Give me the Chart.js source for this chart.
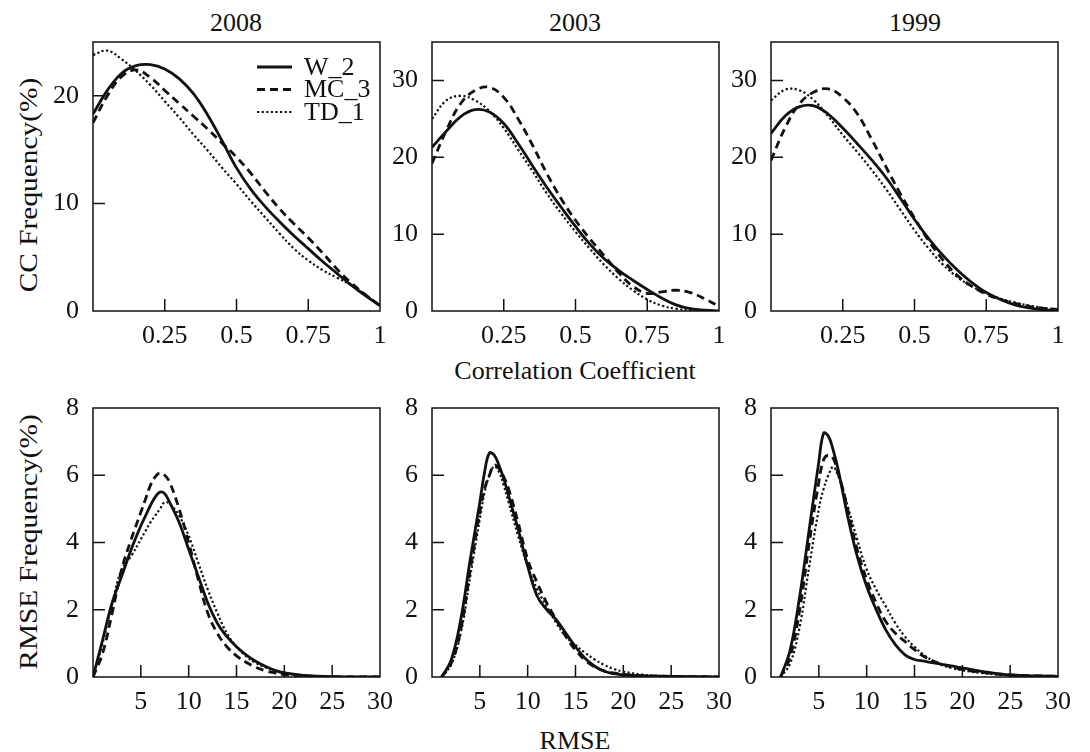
<!DOCTYPE html>
<html>
<head>
<meta charset="utf-8">
<script src="https://cdn.jsdelivr.net/npm/chart.js@4.4.1/dist/chart.umd.min.js"></script>
<style>
body{margin:0;background:#fff;width:1090px;height:752px;position:relative;overflow:hidden;font-family:"Liberation Serif",serif;color:#111}
canvas{position:absolute}
.lbl{position:absolute;font-size:26px;line-height:26px;white-space:nowrap;transform:translate(-50%,-50%)}
.rot{transform:translate(-50%,-50%) rotate(-90deg) scale(1.13,1)}
</style>
</head>
<body>
<div class="lbl" style="left:236px;top:23px">2008</div>
<div class="lbl" style="left:575px;top:23px">2003</div>
<div class="lbl" style="left:915px;top:23px">1999</div>
<div class="lbl rot" style="left:29px;top:185px">CC Frequency(%)</div>
<div class="lbl rot" style="left:29px;top:542px">RMSE Frequency(%)</div>
<div class="lbl" style="left:575px;top:371px">Correlation Coefficient</div>
<div class="lbl" style="left:575px;top:741px">RMSE</div>

<canvas id="c1" width="403" height="351"></canvas>
<canvas id="c2" width="403" height="351"></canvas>
<canvas id="c3" width="403" height="351"></canvas>
<canvas id="c4" width="403" height="351"></canvas>
<canvas id="c5" width="403" height="351"></canvas>
<canvas id="c6" width="403" height="351"></canvas>

<script>
// series names
var names = ['W_2', 'MC_3', 'TD_1'];

// correlation coefficient grid
var ccX = [0, 0.05, 0.1, 0.15, 0.2, 0.25, 0.3, 0.35, 0.4, 0.45, 0.5, 0.55, 0.6, 0.65, 0.7, 0.75, 0.8, 0.85, 0.9, 0.95, 1];

var cc2008W2  = [18.3, 20.5, 22.1, 22.8, 22.9, 22.5, 21.6, 20.2, 18.2, 15.8, 13.3, 11.3, 9.7, 8.3, 7.0, 5.8, 4.6, 3.5, 2.4, 1.4, 0.5];
var cc2008MC3 = [17.5, 20.0, 21.8, 22.4, 21.7, 20.5, 19.3, 18.1, 16.9, 15.6, 14.3, 12.8, 11.1, 9.5, 8.1, 6.8, 5.4, 3.9, 2.6, 1.5, 0.5];
var cc2008TD1 = [23.8, 24.2, 23.4, 22.3, 21.0, 19.5, 18.0, 16.4, 14.9, 13.3, 11.8, 10.2, 8.7, 7.2, 5.8, 4.7, 3.8, 3.1, 2.4, 1.5, 0.5];

var cc2003W2  = [21.3, 23.4, 25.3, 26.2, 25.9, 24.4, 21.8, 18.9, 16.1, 13.5, 11.0, 8.7, 6.8, 5.3, 4.0, 2.8, 1.7, 0.8, 0.3, 0.1, 0];
var cc2003MC3 = [19.2, 23.5, 27.0, 28.7, 29.1, 27.8, 25.0, 21.6, 17.9, 14.6, 11.8, 9.4, 7.2, 5.0, 3.2, 2.3, 2.5, 2.7, 2.4, 1.6, 0.6];
var cc2003TD1 = [25.0, 27.4, 28.0, 27.4, 26.0, 23.8, 21.0, 18.2, 15.3, 12.7, 10.3, 8.1, 6.0, 4.2, 2.7, 1.5, 0.7, 0.3, 0.1, 0, 0];

var cc1999W2  = [23.1, 25.4, 26.6, 26.7, 25.6, 23.8, 21.8, 19.7, 17.4, 14.7, 11.9, 9.4, 7.2, 5.3, 3.7, 2.4, 1.5, 0.8, 0.4, 0.15, 0.05];
var cc1999MC3 = [19.6, 23.9, 27.0, 28.5, 28.9, 27.8, 25.7, 22.4, 18.8, 15.3, 12.1, 9.1, 6.6, 4.6, 3.2, 2.2, 1.5, 1.0, 0.6, 0.35, 0.2];
var cc1999TD1 = [27.4, 28.8, 28.7, 27.4, 25.3, 22.9, 20.7, 18.4, 15.9, 13.2, 10.5, 8.1, 6.0, 4.4, 3.2, 2.3, 1.6, 1.1, 0.7, 0.4, 0.2];

// RMSE grid
var rmseX = [0, 1, 2, 3, 4, 5, 5.5, 6, 6.5, 7, 7.5, 8, 9, 10, 11, 12, 13, 14, 15, 16, 17, 18, 19, 20, 22, 25, 30];

var rm2008W2  = [0, 1.1, 2.2, 3.0, 3.8, 4.5, 4.8, 5.1, 5.35, 5.5, 5.45, 5.2, 4.6, 3.8, 3.0, 2.2, 1.6, 1.2, 0.9, 0.66, 0.47, 0.32, 0.2, 0.12, 0.05, 0.01, 0];
var rm2008MC3 = [0, 0.7, 1.9, 3.2, 4.1, 4.9, 5.3, 5.7, 5.95, 6.07, 6.0, 5.8, 5.0, 4.0, 2.9, 1.9, 1.3, 0.9, 0.63, 0.44, 0.29, 0.19, 0.12, 0.07, 0.02, 0, 0];
var rm2008TD1 = [0, 1.0, 2.2, 3.2, 3.6, 4.1, 4.35, 4.6, 4.8, 5.0, 5.2, 5.15, 4.8, 4.2, 3.4, 2.6, 1.9, 1.3, 0.9, 0.62, 0.42, 0.29, 0.19, 0.12, 0.05, 0.01, 0];

var rm2003W2  = [null, 0, 0.5, 1.7, 3.5, 5.2, 6.1, 6.66, 6.6, 6.3, 5.9, 5.4, 4.4, 3.3, 2.4, 2.0, 1.7, 1.3, 0.9, 0.56, 0.32, 0.17, 0.1, 0.06, 0.03, 0.02, 0];
var rm2003MC3 = [null, 0, 0.4, 1.4, 3.2, 4.9, 5.6, 6.0, 6.3, 6.2, 5.95, 5.6, 4.6, 3.5, 2.8, 2.2, 1.7, 1.2, 0.8, 0.5, 0.3, 0.18, 0.12, 0.08, 0.04, 0.02, 0];
var rm2003TD1 = [null, 0, 0.37, 1.3, 3.0, 4.7, 5.5, 6.0, 6.26, 6.1, 5.7, 5.2, 4.2, 3.3, 2.6, 2.1, 1.6, 1.2, 0.95, 0.72, 0.52, 0.36, 0.24, 0.16, 0.07, 0.02, 0];

var rm1999W2  = [null, 0, 0.8, 2.4, 4.4, 6.4, 7.25, 7.16, 6.75, 6.2, 5.5, 4.8, 3.6, 2.7, 2.0, 1.4, 0.96, 0.66, 0.52, 0.47, 0.42, 0.37, 0.32, 0.27, 0.17, 0.06, 0.02];
var rm1999MC3 = [null, 0, 0.6, 2.0, 4.0, 5.8, 6.46, 6.6, 6.5, 6.07, 5.6, 5.0, 3.8, 2.9, 2.2, 1.65, 1.3, 1.06, 0.81, 0.61, 0.47, 0.37, 0.29, 0.22, 0.14, 0.06, 0.02];
var rm1999TD1 = [null, 0, 0.4, 1.5, 3.3, 5.0, 5.6, 6.0, 6.25, 6.0, 5.6, 5.1, 4.1, 3.2, 2.6, 2.1, 1.6, 1.2, 0.9, 0.65, 0.47, 0.34, 0.26, 0.2, 0.12, 0.05, 0.02];

var ink = '#111';
var fam = '"Liberation Serif", serif';
var styles = [
  { borderWidth: 2.8, borderDash: [] },
  { borderWidth: 2.8, borderDash: [8, 5] },
  { borderWidth: 2.2, borderDash: [2.2, 2.4] }
];

// box round the plot and inward ticks
var frame = {
  id: 'frame',
  afterDatasetsDraw: function (chart) {
    var ctx = chart.ctx, a = chart.chartArea, x = chart.scales.x, y = chart.scales.y;
    ctx.save();
    ctx.strokeStyle = ink;
    ctx.lineWidth = 1.5;
    ctx.strokeRect(a.left, a.top, a.right - a.left, a.bottom - a.top);
    ctx.beginPath();
    x.ticks.forEach(function (t) {
      if (t.value > x.min && t.value < x.max) {
        var p = x.getPixelForValue(t.value);
        ctx.moveTo(p, a.bottom); ctx.lineTo(p, a.bottom - 12);
      }
    });
    y.ticks.forEach(function (t) {
      if (t.value > y.min && t.value < y.max) {
        var p = y.getPixelForValue(t.value);
        ctx.moveTo(a.left, p); ctx.lineTo(a.left + 12, p);
      }
    });
    ctx.stroke();
    ctx.restore();
  }
};

// legend drawn inside the first panel
var lineKey = {
  id: 'lineKey',
  afterDraw: function (chart) {
    var ctx = chart.ctx, a = chart.chartArea;
    ctx.save();
    ctx.font = '26px ' + fam;
    ctx.fillStyle = ink;
    ctx.textBaseline = 'middle';
    chart.data.datasets.forEach(function (ds, i) {
      var yy = a.top + 25 + i * 22.5;
      ctx.strokeStyle = ink;
      ctx.lineWidth = ds.borderWidth;
      ctx.setLineDash(ds.borderDash);
      ctx.beginPath();
      ctx.moveTo(a.right - 123, yy);
      ctx.lineTo(a.right - 88, yy);
      ctx.stroke();
      ctx.setLineDash([]);
      ctx.fillText(ds.label, a.right - 76, yy + 1);
    });
    ctx.restore();
  }
};

var colLeft = [93, 432, 771];
var rowTop = [42, 408];
var padTop = 32, padRight = 26, yAxisW = 90, xAxisH = 50;

function makePanel(id, col, row, xs, series, xMax, xStep, yMax, yStep, withKey) {
  var cv = document.getElementById(id);
  cv.style.left = (colLeft[col] - yAxisW) + 'px';
  cv.style.top = (rowTop[row] - padTop) + 'px';
  var tickFont = { family: fam, size: 26 };
  var datasets = series.map(function (vals, i) {
    return {
      label: names[i],
      data: xs.map(function (v, k) { return { x: v, y: vals[k] }; }),
      borderColor: ink,
      borderWidth: styles[i].borderWidth,
      borderDash: styles[i].borderDash,
      pointRadius: 0,
      fill: false,
      tension: 0.4
    };
  });
  new Chart(cv, {
    type: 'line',
    data: { datasets: datasets },
    options: {
      responsive: false,
      animation: false,
      layout: { padding: { top: padTop, right: padRight, left: 0, bottom: 0 } },
      plugins: { legend: { display: false }, tooltip: { enabled: false } },
      scales: {
        x: {
          type: 'linear', min: 0, max: xMax,
          grid: { display: false, drawTicks: false },
          border: { display: false },
          afterFit: function (s) { s.height = xAxisH; },
          ticks: {
            stepSize: xStep, padding: 10, color: ink, font: tickFont,
            maxRotation: 0, autoSkip: false,
            callback: function (v) { return v === 0 ? '' : String(v); }
          }
        },
        y: {
          min: 0, max: yMax,
          grid: { display: false, drawTicks: false },
          border: { display: false },
          afterFit: function (s) { s.width = yAxisW; },
          ticks: { stepSize: yStep, includeBounds: false, padding: 14, color: ink, font: tickFont }
        }
      }
    },
    plugins: withKey ? [frame, lineKey] : [frame]
  });
}

function drawAll() {
  Chart.defaults.font.family = fam;
  makePanel('c1', 0, 0, ccX, [cc2008W2, cc2008MC3, cc2008TD1], 1, 0.25, 25, 10, true);
  makePanel('c2', 1, 0, ccX, [cc2003W2, cc2003MC3, cc2003TD1], 1, 0.25, 35, 10, false);
  makePanel('c3', 2, 0, ccX, [cc1999W2, cc1999MC3, cc1999TD1], 1, 0.25, 35, 10, false);
  makePanel('c4', 0, 1, rmseX, [rm2008W2, rm2008MC3, rm2008TD1], 30, 5, 8, 2, false);
  makePanel('c5', 1, 1, rmseX, [rm2003W2, rm2003MC3, rm2003TD1], 30, 5, 8, 2, false);
  makePanel('c6', 2, 1, rmseX, [rm1999W2, rm1999MC3, rm1999TD1], 30, 5, 8, 2, false);
}

document.fonts.load('26px "Liberation Serif"').then(drawAll, drawAll);
</script>
</body>
</html>
